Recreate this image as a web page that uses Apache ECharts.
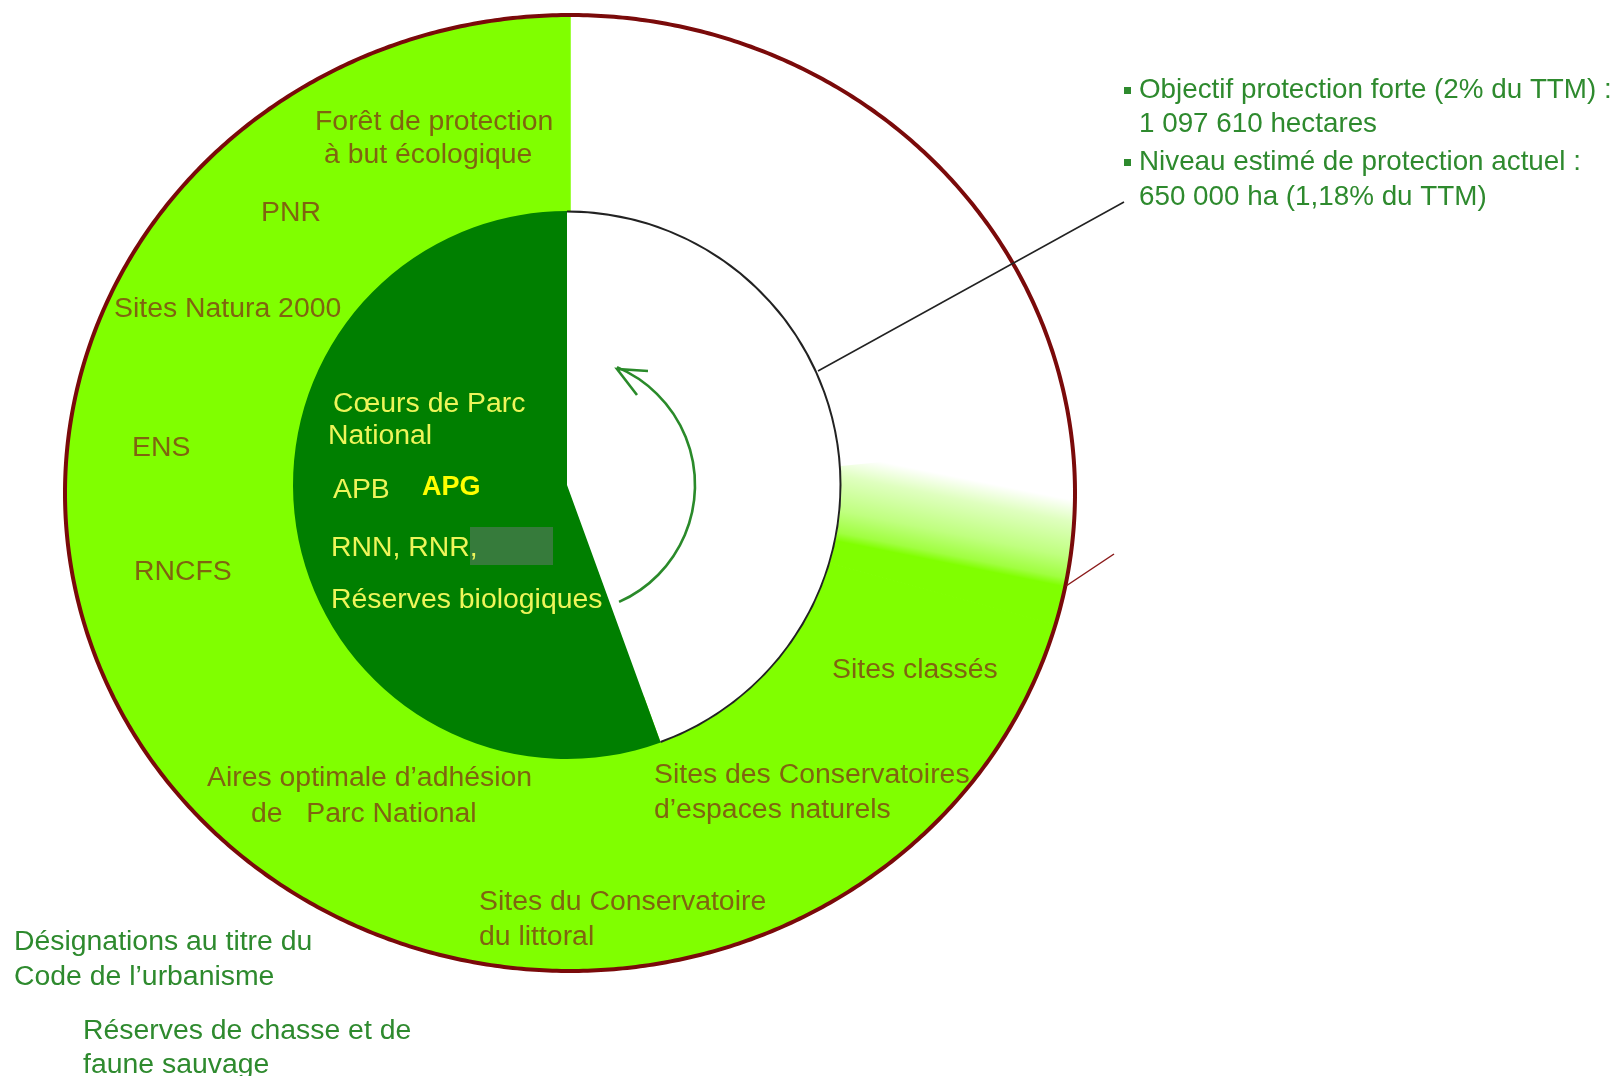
<!DOCTYPE html>
<html><head><meta charset="utf-8">
<script src="https://cdn.jsdelivr.net/npm/echarts@6/dist/echarts.min.js"></script>
<style>html,body{margin:0;padding:0;background:#fff}#c{width:1624px;height:1076px}</style>
</head><body><div id="c"></div>
<script>
// ---- data (angular shares, degrees) ----
const outerCategories = ['Hors désignation', 'Transition', 'Désignations (protection contractuelle et foncière)'];
const outerValues = [84, 22, 254];
const innerCategories = ['Non couvert', 'Protection forte'];
const innerValues = [160, 200];

// ---- texts ----
const ringLabels = ['Forêt de protection', 'à but écologique', 'PNR', 'Sites Natura 2000', 'ENS', 'RNCFS',
  'Sites classés', 'Aires optimale d’adhésion', 'de   Parc National', 'Sites des Conservatoires',
  'd’espaces naturels', 'Sites du Conservatoire', 'du littoral'];
const coreLabels = ['Cœurs de Parc', 'National', 'APB', 'RNN, RNR,', 'Réserves biologiques'];
const coreHighlight = 'APG';
const noteLines = ['Objectif protection forte (2% du TTM) :', '1 097 610 hectares',
  'Niveau estimé de protection actuel :', '650 000 ha (1,18% du TTM)'];
const footLabels = ['Désignations au titre du', 'Code de l’urbanisme', 'Réserves de chasse et de', 'faune sauvage'];

const chart = echarts.init(document.getElementById('c'), null, {renderer: 'canvas'});

const LIGHT = '#80ff00', DARK = '#007f00', OLIVE = '#7f6410', YEL = '#eef55a', NOTE = '#2e8a2e';
const FONT = '"Liberation Sans", Arial, sans-serif';
const FS = 28.4;

const speckle = new echarts.graphic.LinearGradient(953, 476, 936, 561, [
  {offset: 0, color: 'rgba(128,255,0,0)'},
  {offset: 0.25, color: 'rgba(128,255,0,0.25)'},
  {offset: 0.65, color: 'rgba(128,255,0,0.5)'},
  {offset: 0.9, color: 'rgba(128,255,0,0.75)'},
  {offset: 1, color: 'rgba(128,255,0,1)'}
], true);
const outerColors = ['#ffffff', speckle, LIGHT];
const innerColors = ['#ffffff', DARK];

let acc = 0;
const outerData = outerValues.map((v, i) => { const d = [acc, acc + v, i]; acc += v; return d; });

function ringPoints(api, a0, a1, r0, r1) {
  const pts = [];
  const n = Math.max(2, Math.ceil((a1 - a0) / 0.5));
  for (let i = 0; i <= n; i++) {
    const t = (a0 + (a1 - a0) * i / n) * Math.PI / 180;
    pts.push(api.coord([r1 * Math.sin(t), r1 * Math.cos(t)]));
  }
  if (r0 > 0) {
    for (let i = n; i >= 0; i--) {
      const t = (a0 + (a1 - a0) * i / n) * Math.PI / 180;
      pts.push(api.coord([r0 * Math.sin(t), r0 * Math.cos(t)]));
    }
  }
  return pts;
}

function txt(text, x, y, fill, size, weight) {
  return {type: 'text', x: x, y: y, z: 100, silent: true,
    style: {text: text, fill: fill, font: (weight ? weight + ' ' : '') + (size || FS) + 'px ' + FONT, align: 'left', verticalAlign: 'middle'}};
}

const graphics = [
  // callout lines
  {type: 'line', z: 50, silent: true, shape: {x1: 818, y1: 371, x2: 1124, y2: 202}, style: {stroke: '#222', lineWidth: 1.5}},
  {type: 'line', z: 50, silent: true, shape: {x1: 1066, y1: 586, x2: 1114, y2: 554}, style: {stroke: '#8b1a1a', lineWidth: 1.5}},
  // rotation arrow
  {type: 'arc', z: 50, silent: true, shape: {cx: 567, cy: 485, r: 128, startAngle: -67 * Math.PI / 180, endAngle: 66 * Math.PI / 180, clockwise: true},
    style: {stroke: '#2a8a2a', lineWidth: 2.6, fill: null}},
  {type: 'polyline', z: 50, silent: true, shape: {points: [[648, 371], [617, 369], [637, 395]]}, style: {stroke: '#2a8a2a', lineWidth: 2.6, fill: null}},
  // masked box
  {type: 'rect', z: 60, silent: true, shape: {x: 470, y: 527, width: 83, height: 38}, style: {fill: '#367b3b'}},
  // ring labels
  txt(ringLabels[0], 315, 122, OLIVE), txt(ringLabels[1], 324, 155, OLIVE),
  txt(ringLabels[2], 261, 213, OLIVE), txt(ringLabels[3], 114, 309, OLIVE),
  txt(ringLabels[4], 132, 448, OLIVE), txt(ringLabels[5], 134, 572, OLIVE),
  txt(ringLabels[6], 832, 670, OLIVE), txt(ringLabels[7], 207, 778, OLIVE),
  txt(ringLabels[8], 251, 814, OLIVE), txt(ringLabels[9], 654, 775, OLIVE),
  txt(ringLabels[10], 654, 810, OLIVE), txt(ringLabels[11], 479, 902, OLIVE),
  txt(ringLabels[12], 479, 937, OLIVE),
  // core labels
  txt(coreLabels[0], 333, 404, YEL), txt(coreLabels[1], 328, 436, YEL),
  txt(coreLabels[2], 333, 490, YEL), txt(coreLabels[3], 331, 548, YEL),
  txt(coreLabels[4], 331, 600, YEL),
  txt(coreHighlight, 422, 488, '#ffff00', 27, 'bold'),
  // notes
  {type: 'rect', z: 100, silent: true, shape: {x: 1124, y: 87, width: 7, height: 7}, style: {fill: NOTE}},
  txt(noteLines[0], 1139, 90, NOTE, 27.8),
  txt(noteLines[1], 1139, 124, NOTE, 27.8),
  {type: 'rect', z: 100, silent: true, shape: {x: 1124, y: 159, width: 7, height: 7}, style: {fill: NOTE}},
  txt(noteLines[2], 1139, 162, NOTE, 27.8),
  txt(noteLines[3], 1139, 197, NOTE, 27.8),
  // foot
  txt(footLabels[0], 14, 942, NOTE), txt(footLabels[1], 14, 977, NOTE),
  txt(footLabels[2], 83, 1031, NOTE), txt(footLabels[3], 83, 1065, NOTE)
];

chart.setOption({
  animation: false,
  backgroundColor: '#ffffff',
  grid: {left: 65, top: 15, width: 1010, height: 956, show: false},
  xAxis: {type: 'value', min: -1, max: 1, show: false},
  yAxis: {type: 'value', min: -1, max: 1, show: false},
  series: [
    {
      type: 'custom', name: 'Désignations', z: 1, silent: true,
      data: outerData,
      renderItem: function (params, api) {
        const i = api.value(2);
        const solid = i === 2;
        return {type: 'polygon', shape: {points: ringPoints(api, api.value(0), api.value(1), 0.45, 1)},
          style: {fill: outerColors[i], stroke: solid ? LIGHT : null, lineWidth: solid ? 1.5 : 0}};
      }
    },
    {
      type: 'custom', name: 'Contour', z: 2, silent: true,
      data: [[0, 360]],
      renderItem: function (params, api) {
        return {type: 'polygon', shape: {points: ringPoints(api, api.value(0), api.value(1), 0, 1)},
          style: {fill: 'rgba(0,0,0,0)', stroke: '#7a0a0a', lineWidth: 4}};
      }
    },
    {
      type: 'pie', name: 'Protection forte', z: 3, silent: true,
      center: [567, 485], radius: [0, 274], startAngle: 90, clockwise: true,
      label: {show: false}, labelLine: {show: false}, emphasis: {disabled: true},
      itemStyle: {borderWidth: 0},
      data: innerCategories.map((n, i) => ({name: n, value: innerValues[i], itemStyle: {color: innerColors[i]}}))
    },
    {
      type: 'pie', name: 'Bord', z: 4, silent: true,
      center: [567, 485], radius: [272.5, 274.5], startAngle: 90, clockwise: true,
      label: {show: false}, labelLine: {show: false}, emphasis: {disabled: true},
      itemStyle: {borderWidth: 0},
      data: innerCategories.map((n, i) => ({name: n, value: innerValues[i], itemStyle: {color: i === 0 ? '#222' : 'rgba(0,0,0,0)'}}))
    }
  ],
  graphic: graphics
});
</script>
</body></html>
